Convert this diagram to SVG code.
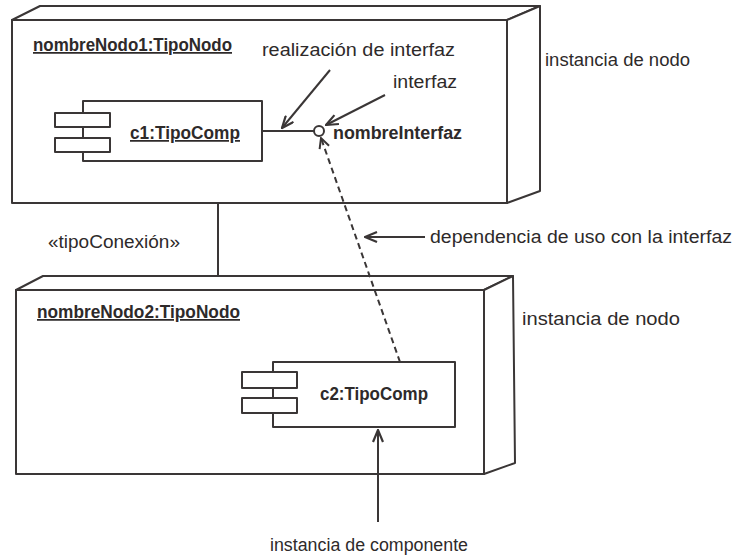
<svg xmlns="http://www.w3.org/2000/svg" width="734" height="556" viewBox="0 0 734 556">
  <style>
    .edge { fill: none; stroke: #3a3636; stroke-width: 2; stroke-linejoin: round; }
    .face { fill: #ffffff; stroke: #3a3636; stroke-width: 2; stroke-linejoin: round; }
    .lbl { font-family: "Liberation Sans", Arial, sans-serif; font-size: 17.5px; fill: #2e2a2a; }
    .bold { font-weight: bold; }
    .ul { text-decoration: underline; }
    .note { fill: none; stroke: #3a3636; stroke-width: 2; }
  </style>
  <defs>
    <marker id="openHead" viewBox="0 0 12 12" refX="11" refY="6" markerWidth="12" markerHeight="12" markerUnits="userSpaceOnUse" orient="auto">
      <path d="M1,1 L11,6 L1,11" fill="none" stroke="#3a3636" stroke-width="2"/>
    </marker>
    <marker id="noteHead" viewBox="0 0 14 12" refX="13" refY="6" markerWidth="14" markerHeight="12" markerUnits="userSpaceOnUse" orient="auto">
      <path d="M1,1 L13,6 L1,11" fill="none" stroke="#3a3636" stroke-width="2.2"/>
    </marker>
  </defs>

  <rect width="734" height="556" fill="#ffffff"/>

  <!-- Node instance 1 -->
  <g id="nodo1">
    <path class="face" d="M12,20 L40,6 L540,6 L507,20 Z"/>
    <path class="face" d="M507,20 L540,6 L540,191 L507,203 Z"/>
    <rect class="face" x="12" y="20" width="495" height="183"/>
    <text class="lbl bold ul" x="33" y="51" textLength="199" lengthAdjust="spacingAndGlyphs">nombreNodo1:TipoNodo</text>
  </g>

  <!-- Component instance c1 -->
  <g id="c1">
    <rect class="face" x="83" y="101" width="179" height="60"/>
    <rect class="face" x="55" y="113" width="55" height="14"/>
    <rect class="face" x="55" y="138" width="55" height="14"/>
    <text class="lbl bold ul" x="130" y="139" textLength="110" lengthAdjust="spacingAndGlyphs">c1:TipoComp</text>
  </g>

  <!-- Provided interface -->
  <g id="interfaz">
    <circle class="face" cx="319" cy="131" r="5"/>
    <text class="lbl bold" x="333" y="139" textLength="129" lengthAdjust="spacingAndGlyphs">nombreInterfaz</text>
  </g>

  <!-- Node instance 2 -->
  <g id="nodo2">
    <path class="face" d="M16,290 L43,276 L513,276 L484,290 Z"/>
    <path class="face" d="M484,290 L513,276 L515,463 L484,474 Z"/>
    <rect class="face" x="16" y="290" width="468" height="184"/>
    <text class="lbl bold ul" x="37" y="318" textLength="203" lengthAdjust="spacingAndGlyphs">nombreNodo2:TipoNodo</text>
  </g>

  <!-- Component instance c2 -->
  <g id="c2">
    <rect class="face" x="273" y="362" width="182" height="65"/>
    <rect class="face" x="242" y="372" width="55" height="16"/>
    <rect class="face" x="242" y="398" width="55" height="15"/>
    <text class="lbl bold" x="320" y="400" textLength="108" lengthAdjust="spacingAndGlyphs">c2:TipoComp</text>
  </g>

  <!-- Connectors -->
  <g id="conectores">
    <!-- realization: c1 to interface lollipop -->
    <line class="edge" x1="262" y1="131" x2="314" y2="131"/>
    <!-- node link -->
    <line class="edge" x1="218" y1="203" x2="218" y2="276"/>
    <text class="lbl" x="48" y="248" textLength="132" lengthAdjust="spacingAndGlyphs">«tipoConexión»</text>
    <!-- usage dependency from c2 to interface -->
    <line class="edge" x1="400" y1="362" x2="321" y2="138" stroke-dasharray="6,4" marker-end="url(#openHead)"/>
  </g>

  <!-- Annotations -->
  <g id="anotaciones">
    <text class="lbl" x="262" y="56" textLength="193" lengthAdjust="spacingAndGlyphs">realización de interfaz</text>
    <line class="note" x1="330" y1="70" x2="282" y2="128" marker-end="url(#noteHead)"/>

    <text class="lbl" x="393" y="88" textLength="64" lengthAdjust="spacingAndGlyphs">interfaz</text>
    <line class="note" x1="385" y1="95" x2="326" y2="125" marker-end="url(#noteHead)"/>

    <text class="lbl" x="545" y="66" textLength="145" lengthAdjust="spacingAndGlyphs">instancia de nodo</text>
    <text class="lbl" x="522" y="325" textLength="158" lengthAdjust="spacingAndGlyphs">instancia de nodo</text>

    <text class="lbl" x="430" y="243" textLength="302" lengthAdjust="spacingAndGlyphs">dependencia de uso con la interfaz</text>
    <line class="note" x1="425" y1="237" x2="365" y2="237" marker-end="url(#noteHead)"/>

    <text class="lbl" x="270" y="551" textLength="198" lengthAdjust="spacingAndGlyphs">instancia de componente</text>
    <line class="note" x1="378" y1="522" x2="378" y2="430" marker-end="url(#noteHead)"/>
  </g>
</svg>
